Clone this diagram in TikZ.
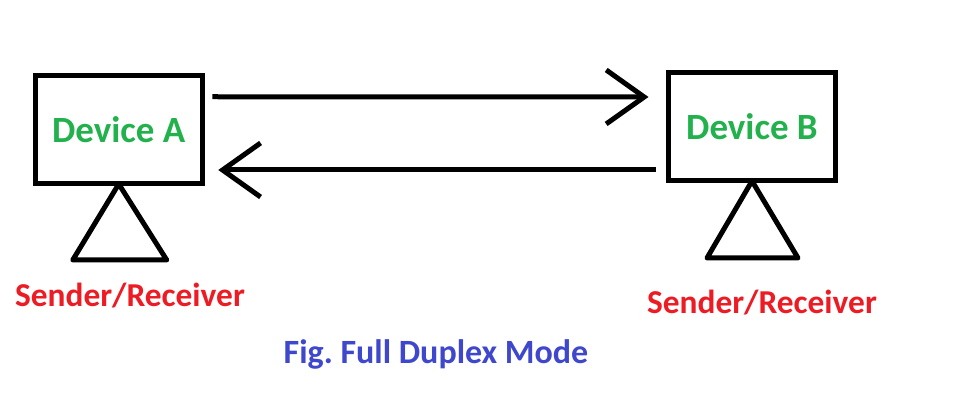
\documentclass[tikz,border=0pt]{standalone}
\usepackage{fontspec}
\setmainfont{Carlito}
\usetikzlibrary{arrows.meta}
\definecolor{devgreen}{RGB}{34,177,76}
\definecolor{rolered}{RGB}{237,28,36}
\definecolor{capblue}{RGB}{63,72,204}
\frenchspacing
\tikzset{
	device/.style={draw, line width=2.5pt, outer sep=0pt, minimum width=83.5pt, minimum height=54.25pt,
		text=devgreen, font=\fontsize{18.5}{20}\selectfont\bfseries},
	link/.style={line width=2.5pt, -{Straight Barb[length=19pt, width=27pt, line width=2.5pt]}},
	stand/.style={line width=2.5pt, line join=round},
	role/.style={text=rolered, font=\fontsize{16.7}{18}\selectfont\bfseries},
}
\begin{document}
\begin{tikzpicture}[x=0.5pt, y=-0.5pt]
			%%%%% START %%%%%
			\useasboundingbox (0, 0) rectangle (954, 411);
			
			\node[device] (devA) at (118.75, 129.75) {Device A};
			\node[device] (devB) at (752, 126.75) {Device B};
			
			\draw[stand] (devA.south) -- ++(-46, 76) -- ++(94, 0) -- cycle;
			\draw[stand] (devB.south) -- ++(-45, 77) -- ++(91, 0) -- cycle;
			
			\draw[link] ([shift={(10, -33)}]devA.east) -- ([shift={(-20, -29.75)}]devB.west);
			\draw[link] ([shift={(-13, 43.25)}]devB.west) -- ([shift={(16, 40.25)}]devA.east);
			
			\node[role] (roleA) at (130, 296) {Sender/Receiver};
			\node[role] (roleB) at (762, 303) {Sender/Receiver};
			
			\node[text=capblue, font=\fontsize{17}{18}\selectfont\bfseries] (caption) at (436, 354) {Fig. Full Duplex Mode};
			%%%%% END %%%%%
\end{tikzpicture}
\end{document}
